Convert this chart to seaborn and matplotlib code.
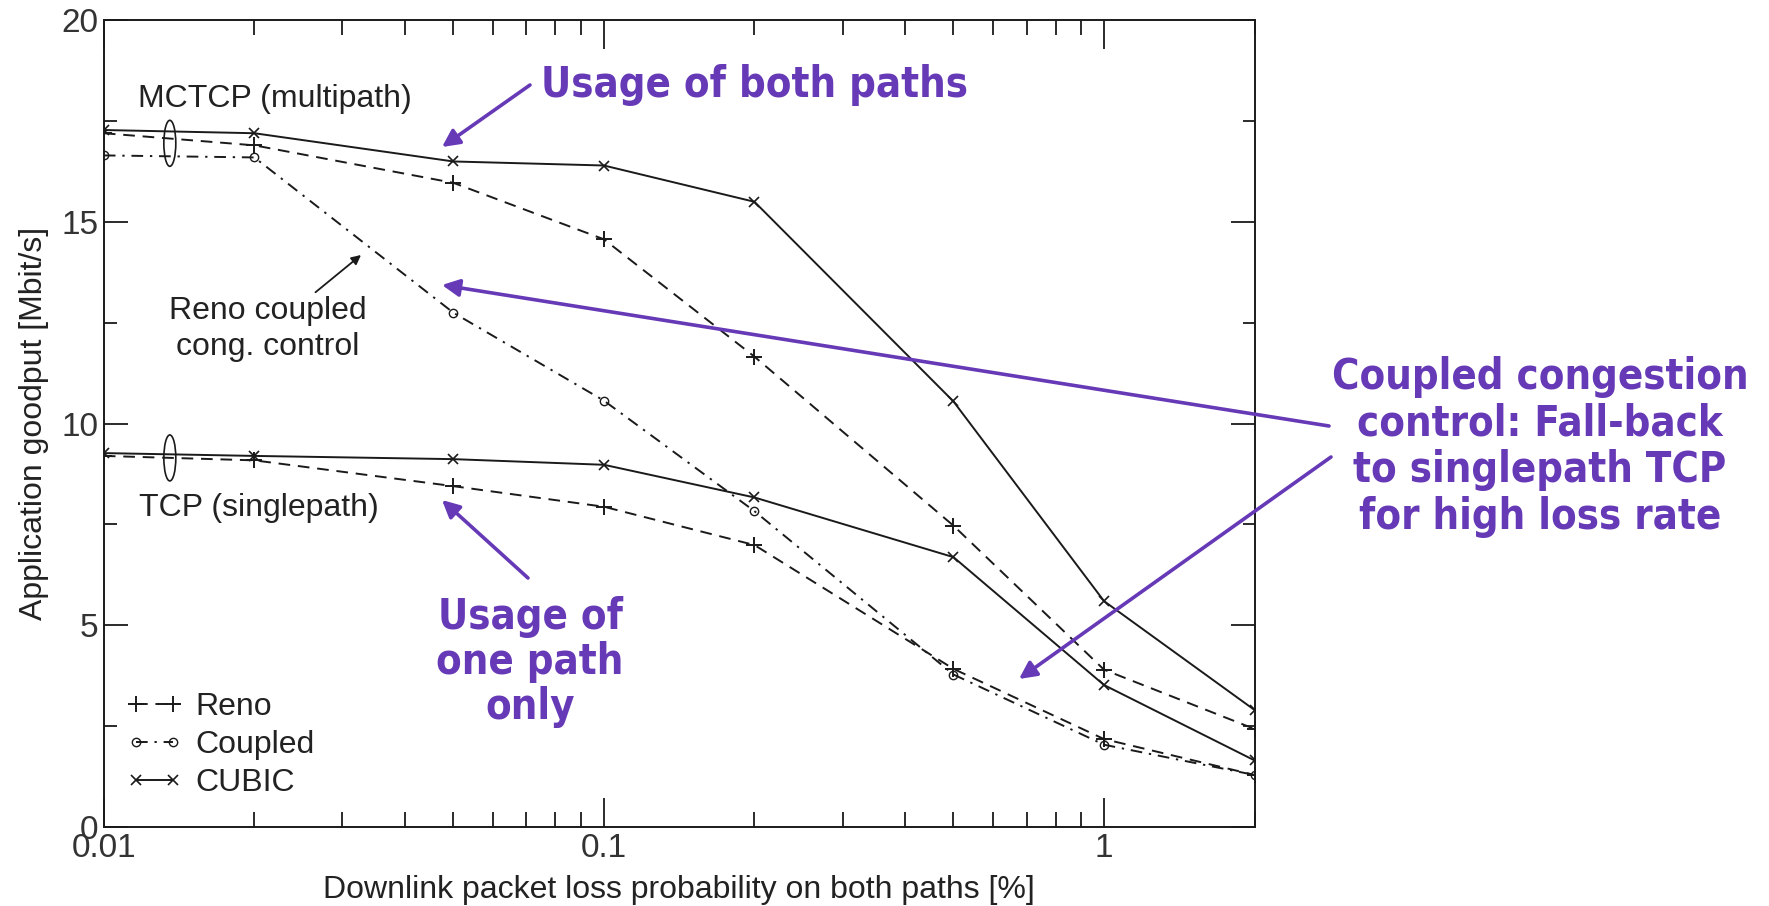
import matplotlib
matplotlib.use("Agg")
import matplotlib.pyplot as plt
from matplotlib.lines import Line2D
from matplotlib.patches import Ellipse
import seaborn as sns

sns.set_style("ticks")
plt.rcParams["font.family"] = ["Liberation Sans", "DejaVu Sans"]

# Downlink loss probability [%] (log axis)
loss = [0.01, 0.02, 0.05, 0.1, 0.2, 0.5, 1, 2]

# Multipath (MCTCP) goodput [Mbit/s]
mp_cubic = [17.28, 17.2, 16.5, 16.4, 15.5, 10.55, 5.6, 2.9]
mp_reno = [17.2, 16.9, 15.97, 14.57, 11.66, 7.47, 3.9, 2.43]
mp_coupled = [16.65, 16.6, 12.75, 10.57, 7.83, 3.78, 2.04, 1.29]

# Singlepath TCP goodput [Mbit/s]
sp_cubic = [9.27, 9.2, 9.12, 8.98, 8.17, 6.69, 3.52, 1.65]
sp_reno = [9.2, 9.09, 8.45, 7.94, 6.99, 3.92, 2.18, 1.29]

legend_labels = ["Reno", "Coupled", "CUBIC"]

INK = "#1a1a1a"
PURPLE = "#6639b7"
LW = 1.4

styles = {
    "Reno": dict(linestyle=(0, (6, 4)), marker="+", markersize=11, markeredgewidth=1.4),
    "Coupled": dict(linestyle=(0, (6, 3.5, 1.2, 3.5)), marker="o", markersize=6,
                    markerfacecolor="none", markeredgewidth=1.0),
    "CUBIC": dict(linestyle="-", marker="x", markersize=7, markeredgewidth=1.2),
}

W, H = 1769, 906
fig = plt.figure(figsize=(W / 100, H / 100), dpi=100)
ax = fig.add_axes([0.0587, 0.0872, 0.6505, 0.8904])

series = [
    (mp_cubic, "CUBIC"), (mp_reno, "Reno"), (mp_coupled, "Coupled"),
    (sp_cubic, "CUBIC"), (sp_reno, "Reno"),
]
for vals, kind in series:
    sns.lineplot(x=loss, y=vals, ax=ax, color=INK, lw=LW, sort=False,
                 estimator=None, legend=False, markeredgecolor=INK, **styles[kind])

ax.set_xscale("log")
ax.set_xlim(0.01, 2)
ax.set_ylim(0, 20)
ax.set_yticks([0, 5, 10, 15, 20])
ax.set_yticks([2.5, 7.5, 12.5, 17.5], minor=True)
ax.set_xticks([0.01, 0.1, 1])
ax.set_xticklabels(["0.01", "0.1", "1"])

for side in ax.spines.values():
    side.set_linewidth(1.4)
    side.set_color(INK)

ax.tick_params(axis="both", which="both", direction="in", top=True, right=True,
               color=INK, width=1.3, labelcolor="#333333", labelsize=24)
ax.tick_params(axis="x", which="major", length=21, pad=4)
ax.tick_params(axis="x", which="minor", length=11)
ax.tick_params(axis="y", which="major", length=17, pad=4)
ax.tick_params(axis="y", which="minor", length=9)

ax.set_xlabel("Downlink packet loss probability on both paths [%]", fontsize=23,
              color="#222222", labelpad=8)
ax.set_ylabel("Application goodput [Mbit/s]", fontsize=23, color="#222222", labelpad=9)

# Legend: line with a marker at each end
handles = [Line2D([0], [0], color=INK, lw=LW, **styles[k]) for k in legend_labels]
ax.legend(handles, legend_labels, loc="lower left", bbox_to_anchor=(0.006, 0.0165),
          frameon=False, numpoints=2, handlelength=1.75, handletextpad=0.4,
          labelspacing=0.24, fontsize=23, borderpad=0, labelcolor="#222222")


def fp(x, y):
    """Figure-pixel position measured from the top-left corner."""
    return (x, H - y)


# Ellipses grouping the curves at the low-loss end
for yc in (16.95, 9.15):
    cx, cy = ax.transData.transform((0.01355, yc))
    cx, cy = ax.transAxes.inverted().transform((cx, cy))
    ax.add_patch(Ellipse((cx, cy), 0.0104, 0.057, transform=ax.transAxes,
                         fill=False, ec=INK, lw=1.2))

# Black labels inside the plot
txt = dict(xycoords="figure pixels", color="#222222", fontsize=23, ha="center", va="center")
ax.annotate("MCTCP (multipath)", fp(275, 99), **txt)
ax.annotate("TCP (singlepath)", fp(259, 508), **txt)
ax.annotate("Reno coupled\ncong. control", xy=fp(361, 255), xytext=fp(268, 329),
            textcoords="figure pixels", linespacing=1.3,
            arrowprops=dict(arrowstyle="-|>", color=INK, lw=1.3, mutation_scale=14,
                            shrinkA=0, shrinkB=0, relpos=(0.72, 1.0)), **txt)

# Purple callouts
ptxt = dict(xycoords="figure pixels", textcoords="figure pixels", color=PURPLE,
            fontsize=30, fontweight="bold", family="DejaVu Sans",
            fontstretch="condensed", va="center")
parrow = dict(arrowstyle="-|>", color=PURPLE, lw=2.6, mutation_scale=26,
              shrinkA=0, shrinkB=0)
pix = dict(xycoords="figure pixels", textcoords="figure pixels")

ax.annotate("Usage of both paths", xy=fp(541, 85), ha="left", **ptxt)
ax.annotate("", xy=fp(442, 147), xytext=fp(530, 85), arrowprops=parrow, **pix)

ax.annotate("Usage of\none path\nonly", xy=fp(530, 662), ha="center",
            linespacing=1.1, **ptxt)
ax.annotate("", xy=fp(442, 500), xytext=fp(528, 578), arrowprops=parrow, **pix)

ax.annotate("Coupled congestion\ncontrol: Fall-back\nto singlepath TCP\nfor high loss rate",
            xy=fp(1540, 447), ha="center", linespacing=1.15, **ptxt)
ax.annotate("", xy=fp(442, 285), xytext=fp(1329, 426), arrowprops=parrow, **pix)
ax.annotate("", xy=fp(1019, 679), xytext=fp(1331, 457), arrowprops=parrow, **pix)

fig.savefig("out.png", dpi=100, facecolor="white")
